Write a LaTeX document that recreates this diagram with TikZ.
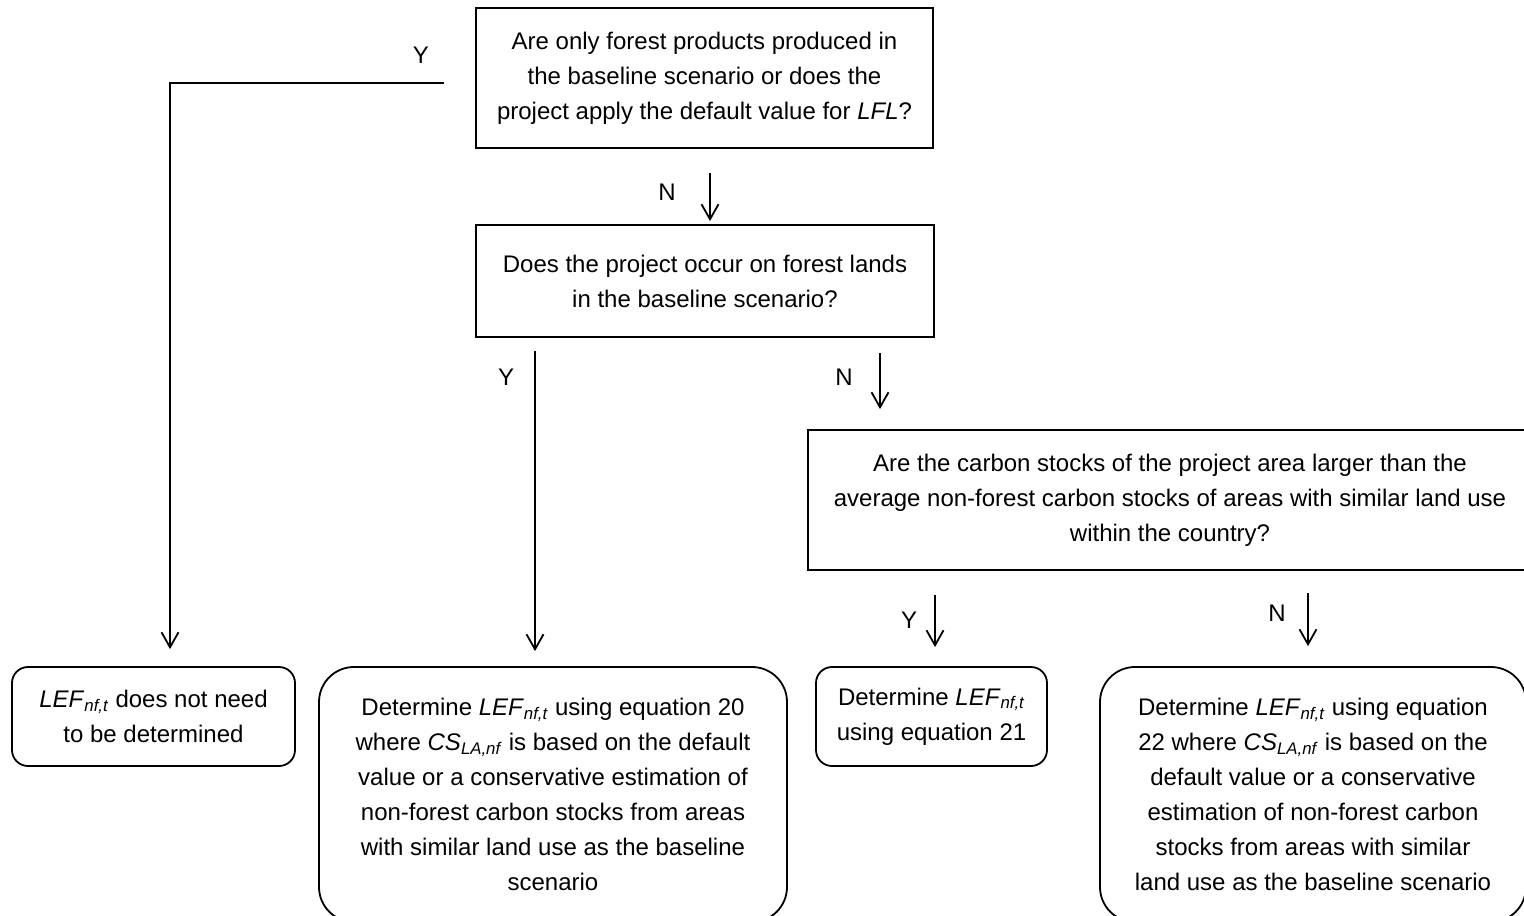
\documentclass[tikz,border=0pt]{standalone}
\usepackage{fontspec}
\setmainfont{Liberation Sans}
\usetikzlibrary{arrows.meta,positioning}
\tikzset{
  qbox/.style={draw, line width=1.8pt, align=center, inner sep=0pt},
  rbox/.style={draw, line width=1.8pt, align=center, inner sep=0pt, rounded corners=16pt},
  arr/.style={-{Straight Barb[length=15pt,width=17pt,line width=1.8pt]}, line width=1.8pt},
  lbl/.style={inner sep=0pt},
}
\newcommand{\lef}{\textit{LEF}\textsubscript{\textit{nf,t}}}
\newcommand{\csla}{\textit{CS}\textsubscript{\textit{LA,nf}}}

\begin{document}
\begin{tikzpicture}[x=1pt, y=-1pt, font=\fontsize{24pt}{35pt}\selectfont]
  \useasboundingbox (0,0) rectangle (1524,916);
  % questions
  \node[qbox, minimum width=457pt, minimum height=140pt] (q1) at (704.5,78)
    {Are only forest products produced in\\the baseline scenario or does the\\project apply the default value for \textit{LFL}?};
  \node[qbox, minimum width=458pt, minimum height=112pt] (q2) at (705,281)
    {Does the project occur on forest lands\\in the baseline scenario?};
  \node[qbox, minimum width=724pt, minimum height=140pt] (q3) at (1170,500)
    {Are the carbon stocks of the project area larger than the\\average non-forest carbon stocks of areas with similar land use\\within the country?};
  % results
  \node[rbox, minimum width=283pt, minimum height=99pt] (r1) at (153.5,716.5)
    {\lef{} does not need\\to be determined};
  \node[rbox, rounded corners=35pt, minimum width=468pt, minimum height=255pt] (r2) at (553,794.5)
    {Determine \lef{} using equation 20\\where \csla{} is based on the default\\value or a conservative estimation of\\non-forest carbon stocks from areas\\with similar land use as the baseline\\scenario};
  \node[rbox, minimum width=231pt, minimum height=99pt] (r3) at (931.5,716.5)
    {Determine \lef\\using equation 21};
  \node[rbox, rounded corners=35pt, minimum width=426pt, minimum height=255pt] (r4) at (1313,794.5)
    {Determine \lef{} using equation\\22 where \csla{} is based on the\\default value or a conservative\\estimation of non-forest carbon\\stocks from areas with similar\\land use as the baseline scenario};
  % connectors
  \draw[arr] ([xshift=-31pt,yshift=-5pt]q1.west) -| ([xshift=16.5pt,yshift=17pt]r1.north);
  \draw[arr] ([xshift=5.5pt,yshift=-24pt]q1.south) -- ([xshift=5pt,yshift=3pt]q2.north);
  \draw[arr] ([xshift=-170pt,yshift=-13pt]q2.south) -- ([xshift=-18pt,yshift=15pt]r2.north);
  \draw[arr] ([xshift=175pt,yshift=-15pt]q2.south) -- ([xshift=-290pt,yshift=20pt]q3.north);
  \draw[arr] ([xshift=-235pt,yshift=-24pt]q3.south) -- ([xshift=3.5pt,yshift=19pt]r3.north);
  \draw[arr] ([xshift=138pt,yshift=-22pt]q3.south) -- ([xshift=-5pt,yshift=20pt]r4.north);
  % labels
  \node[lbl] (yq1) at (421,55) {Y};
  \node[lbl] (nq1) at (667,192) {N};
  \node[lbl] (yq2) at (506,377) {Y};
  \node[lbl] (nq2) at (844,377) {N};
  \node[lbl] (yq3) at (909,620) {Y};
  \node[lbl] (nq3) at (1277,613) {N};
\end{tikzpicture}
\end{document}
